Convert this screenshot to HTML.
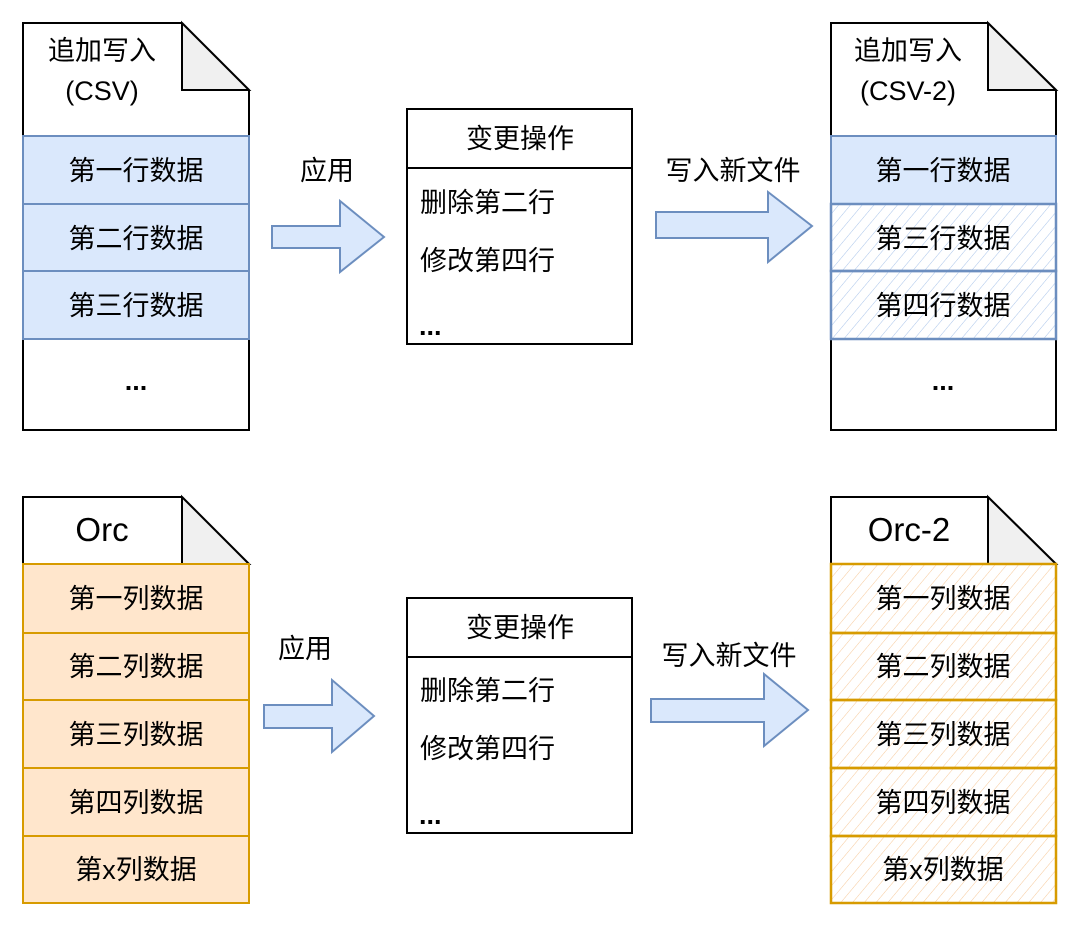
<!DOCTYPE html>
<html><head><meta charset="utf-8"><style>
html,body{margin:0;padding:0;background:#fff;}
svg{display:block;}
text{font-family:"Liberation Sans","Noto Sans CJK SC",sans-serif;fill:#000;}
</style></head><body>
<svg width="1080" height="927" viewBox="0 0 1080 927" xmlns="http://www.w3.org/2000/svg">
<defs>
<pattern id="hb" width="9" height="9" patternUnits="userSpaceOnUse" patternTransform="rotate(40)">
<line x1="0" y1="0" x2="0" y2="9" stroke="#a9c4ea" stroke-width="1"/></pattern>
<pattern id="ho" width="9" height="9" patternUnits="userSpaceOnUse" patternTransform="rotate(40)">
<line x1="0" y1="0" x2="0" y2="9" stroke="#f7c99a" stroke-width="1"/></pattern>
</defs>
<g stroke-width="2">
<!-- Top left doc -->
<path d="M23,23 H182 L249,90 V430 H23 Z" fill="#fff" stroke="#000"/>
<path d="M182,23 V90 H249 Z" fill="#f0f0f0" stroke="#000"/>
<rect x="23" y="136" width="226" height="68" fill="#dae8fc" stroke="#6c8ebf"/>
<rect x="23" y="204" width="226" height="67" fill="#dae8fc" stroke="#6c8ebf"/>
<rect x="23" y="271" width="226" height="68" fill="#dae8fc" stroke="#6c8ebf"/>
<!-- arrow 1 -->
<path d="M272,226 H340 V201 L384,237 L340,272 V248 H272 Z" fill="#dae8fc" stroke="#6c8ebf"/>
<!-- middle box 1 -->
<rect x="407" y="109" width="225" height="235" fill="#fff" stroke="#000"/>
<line x1="407" y1="168" x2="632" y2="168" stroke="#000"/>
<!-- arrow 2 -->
<path d="M656,212 H768 V192 L812,226 L768,262 V238 H656 Z" fill="#dae8fc" stroke="#6c8ebf"/>
<!-- Top right doc -->
<path d="M831,23 H988 L1056,90 V430 H831 Z" fill="#fff" stroke="#000"/>
<path d="M988,23 V90 H1056 Z" fill="#f0f0f0" stroke="#000"/>
<rect x="831" y="136" width="225" height="68" fill="#dae8fc" stroke="#6c8ebf"/>
<rect x="831" y="204" width="225" height="67" fill="url(#hb)" stroke="#6c8ebf" stroke-width="2.5"/>
<rect x="831" y="271" width="225" height="68" fill="url(#hb)" stroke="#6c8ebf" stroke-width="2.5"/>

<!-- Bottom left doc -->
<path d="M23,497 H182 L249,564 V903 H23 Z" fill="#fff" stroke="#000"/>
<path d="M182,497 V564 H249 Z" fill="#f0f0f0" stroke="#000"/>
<rect x="23" y="564" width="226" height="69" fill="#ffe6cc" stroke="#d79b00"/>
<rect x="23" y="633" width="226" height="67" fill="#ffe6cc" stroke="#d79b00"/>
<rect x="23" y="700" width="226" height="68" fill="#ffe6cc" stroke="#d79b00"/>
<rect x="23" y="768" width="226" height="68" fill="#ffe6cc" stroke="#d79b00"/>
<rect x="23" y="836" width="226" height="67" fill="#ffe6cc" stroke="#d79b00"/>
<!-- arrow 3 -->
<path d="M264,705 H332 V680 L374,716 L332,752 V728 H264 Z" fill="#dae8fc" stroke="#6c8ebf"/>
<!-- middle box 2 -->
<rect x="407" y="598" width="225" height="235" fill="#fff" stroke="#000"/>
<line x1="407" y1="657" x2="632" y2="657" stroke="#000"/>
<!-- arrow 4 -->
<path d="M651,699 H764 V674 L808,710 L764,746 V722 H651 Z" fill="#dae8fc" stroke="#6c8ebf"/>
<!-- Bottom right doc -->
<path d="M831,497 H988 L1056,564 V903 H831 Z" fill="#fff" stroke="#000"/>
<path d="M988,497 V564 H1056 Z" fill="#f0f0f0" stroke="#000"/>
<rect x="831" y="564" width="225" height="69" fill="url(#ho)" stroke="#d79b00" stroke-width="2.5"/>
<rect x="831" y="633" width="225" height="67" fill="url(#ho)" stroke="#d79b00" stroke-width="2.5"/>
<rect x="831" y="700" width="225" height="68" fill="url(#ho)" stroke="#d79b00" stroke-width="2.5"/>
<rect x="831" y="768" width="225" height="68" fill="url(#ho)" stroke="#d79b00" stroke-width="2.5"/>
<rect x="831" y="836" width="225" height="67" fill="url(#ho)" stroke="#d79b00" stroke-width="2.5"/>
</g>

<g font-size="27" text-anchor="middle">
<text x="102" y="60">追加写入</text>
<text x="102" y="100">(CSV)</text>
<text x="136" y="180">第一行数据</text>
<text x="136" y="248">第二行数据</text>
<text x="136" y="315">第三行数据</text>
<text x="136" y="390" font-weight="bold">...</text>
<text x="327" y="180">应用</text>
<text x="520" y="148">变更操作</text>
<text x="733" y="180">写入新文件</text>
<text x="908" y="60">追加写入</text>
<text x="908" y="100">(CSV-2)</text>
<text x="943" y="180">第一行数据</text>
<text x="943" y="248">第三行数据</text>
<text x="943" y="315">第四行数据</text>
<text x="943" y="390" font-weight="bold">...</text>

<text x="102" y="541" font-size="33">Orc</text>
<text x="136" y="608">第一列数据</text>
<text x="136" y="676">第二列数据</text>
<text x="136" y="744">第三列数据</text>
<text x="136" y="812">第四列数据</text>
<text x="136" y="879">第x列数据</text>
<text x="305" y="658">应用</text>
<text x="520" y="637">变更操作</text>
<text x="729" y="665">写入新文件</text>
<text x="909" y="541" font-size="33">Orc-2</text>
<text x="943" y="608">第一列数据</text>
<text x="943" y="676">第二列数据</text>
<text x="943" y="744">第三列数据</text>
<text x="943" y="812">第四列数据</text>
<text x="943" y="879">第x列数据</text>
</g>
<g font-size="27">
<text x="420" y="212">删除第二行</text>
<text x="420" y="270">修改第四行</text>
<text x="419" y="335" font-weight="bold">...</text>
<text x="420" y="700">删除第二行</text>
<text x="420" y="758">修改第四行</text>
<text x="419" y="824" font-weight="bold">...</text>
</g>
</svg>
</body></html>
